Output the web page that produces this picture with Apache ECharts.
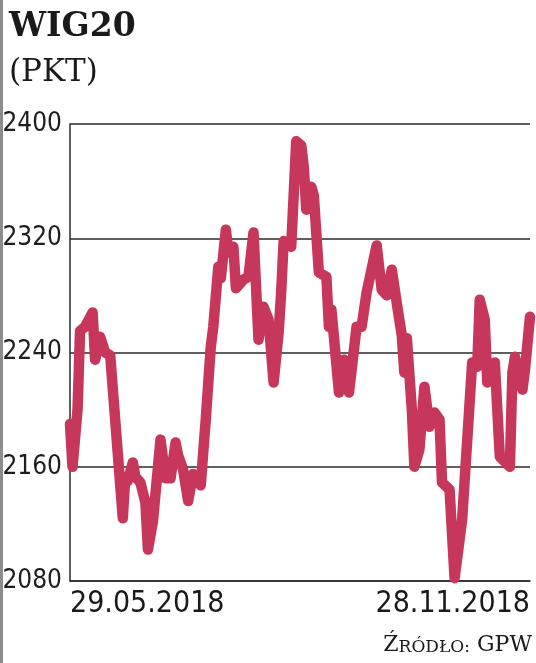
<!DOCTYPE html>
<html>
<head>
<meta charset="utf-8">
<script src="https://cdn.jsdelivr.net/npm/echarts@6/dist/echarts.min.js"></script>
<style>
html,body{margin:0;padding:0;background:#fff;}
#c{width:536px;height:663px;}
</style>
</head>
<body>
<div id="c"></div>
<script>
// Calendar days since 29.05.2018
const days = [0,1,3,4,6,9,10,12,14,16,21,22,23,25,26,28,30,31,33,36,38,40,42,43,45,47,49,52,54,56,57,59,60,62,63,65,66,69,71,73,75,77,79,81,83,84,85,88,90,92,93,94,96,97,99,102,103,104,107,109,111,114,116,118,122,124,126,128,131,132,133,134,136,137,139,141,143,145,147,148,151,153,156,160,162,163,165,166,169,171,175,176,177,180,181,183];
// WIG20 close values (points)
const values = [2190,2160,2200,2255,2258,2268,2235,2251,2240,2238,2124,2153,2150,2163,2153,2149,2135,2102,2122,2179,2152,2152,2177,2168,2158,2136,2155,2147,2193,2244,2258,2300,2292,2326,2310,2314,2285,2291,2293,2324,2249,2272,2263,2219,2254,2282,2318,2314,2388,2385,2370,2340,2356,2350,2296,2293,2258,2270,2212,2235,2212,2258,2258,2282,2315,2284,2280,2298,2263,2252,2226,2250,2200,2160,2172,2216,2188,2198,2193,2149,2144,2082,2123,2233,2230,2277,2263,2219,2233,2167,2160,2226,2237,2214,2228,2265];
const xTickLabels = ['29.05.2018','28.11.2018'];
const yTicks = [2080,2160,2240,2320,2400];
const titleText = 'WIG20';
const unitText = '(PKT)';
const sourceText = ['Ź','RÓDŁO:',' GPW'];

const chart = echarts.init(document.getElementById('c'), null, {renderer:'canvas'});
const totalDays = 183;
chart.setOption({
  animation:false,
  backgroundColor:'#ffffff',
  title:{
    text:titleText, subtext:unitText, left:4, top:6, itemGap:13,
    textStyle:{fontFamily:'DejaVu Serif', fontWeight:'bold', fontSize:33, color:'#1a1a1a'},
    subtextStyle:{fontFamily:'DejaVu Serif', fontWeight:'normal', fontSize:31, color:'#1a1a1a'}
  },
  grid:{left:70, right:6, top:124, bottom:82, containLabel:false, outerBoundsMode:'none'},
  xAxis:{
    type:'value', min:0, max:totalDays, interval:totalDays,
    axisLine:{show:true, lineStyle:{color:'#2a2a2a', width:1.5}},
    axisTick:{show:false}, splitLine:{show:false},
    axisLabel:{
      margin:8, fontFamily:'DejaVu Sans Condensed, sans-serif', fontSize:30, color:'#1a1a1a',
      alignMinLabel:'left', alignMaxLabel:'right', showMinLabel:true, showMaxLabel:true,
      formatter:function(v){ if(v===0) return xTickLabels[0]; if(v===totalDays) return xTickLabels[1]; return ''; }
    }
  },
  yAxis:{
    type:'value', min:yTicks[0], max:yTicks[yTicks.length-1], interval:80,
    axisLine:{show:true, lineStyle:{color:'#2a2a2a', width:1.5}},
    axisTick:{show:false},
    splitLine:{show:true, lineStyle:{color:'#2a2a2a', width:1.5}},
    axisLabel:{margin:8, fontFamily:'DejaVu Sans Condensed, sans-serif', fontSize:26, color:'#1e1e1e',
      formatter:function(v){ return String(v); }}
  },
  series:[{
    type:'line', data:days.map((d,i)=>[d,values[i]]), showSymbol:false, symbol:'none', clip:false,
    lineStyle:{color:'#c6375b', width:10.5, join:'round', cap:'round'}
  }],
  graphic:[
    {type:'rect', left:0, top:0, shape:{x:0,y:0,width:3,height:663}, style:{fill:'#8c8c8c'}, silent:true},
    {type:'text', right:4, bottom:7, style:{
      text:'{a|'+sourceText[0]+'}{b|'+sourceText[1]+'}{a|'+sourceText[2]+'}',
      rich:{
        a:{fontFamily:'DejaVu Serif', fontSize:22, fill:'#1a1a1a', verticalAlign:'bottom'},
        b:{fontFamily:'DejaVu Serif', fontSize:17, fill:'#1a1a1a', verticalAlign:'bottom'}
      }
    }}
  ]
});
</script>
</body>
</html>
